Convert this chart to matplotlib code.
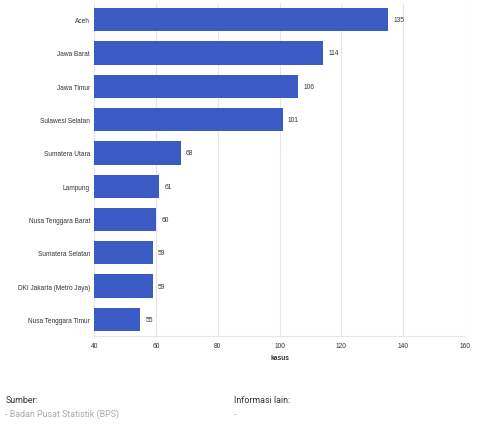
import matplotlib.pyplot as plt

plt.rcParams['font.family'] = ['Liberation Sans', 'DejaVu Sans']

provinsi = ['Aceh', 'Jawa Barat', 'Jawa Timur', 'Sulawesi Selatan', 'Sumatera Utara',
            'Lampung', 'Nusa Tenggara Barat', 'Sumatera Selatan',
            'DKI Jakarta (Metro Jaya)', 'Nusa Tenggara Timur']
kasus = [135, 114, 106, 101, 68, 61, 60, 59, 59, 55]
x_ticks = [40, 60, 80, 100, 120, 140, 160]

fig = plt.figure(figsize=(4.8, 4.35), dpi=100)
ax = fig.add_axes([0.196, 0.225, 0.773, 0.766])

y = list(range(len(provinsi)))
ax.barh(y, kasus, height=0.7, color='#3a5bc4', zorder=3)
ax.set_xlim(40, 160)
ax.set_ylim(len(provinsi) - 0.5, -0.5)
ax.set_yticks(y)
ax.set_yticklabels(provinsi, fontsize=4.7, color='#333333')
ax.set_xticks(x_ticks)
ax.set_xticklabels([str(t) for t in x_ticks], fontsize=4.8, color='#333333')
ax.tick_params(axis='y', length=0, pad=3)
ax.tick_params(axis='x', length=0, pad=4)
ax.grid(axis='x', color='#e6e6e6', linewidth=0.8, zorder=0)
for s in ['top', 'right', 'left']:
    ax.spines[s].set_visible(False)
ax.spines['bottom'].set_color('#e6e6e6')

for yi, v in zip(y, kasus):
    ax.text(v + 1.7, yi, str(v), va='center', ha='left', fontsize=4.8, color='#333333')

ax.set_xlabel('kasus', fontsize=4.8, fontweight='bold', color='#333333', labelpad=4)

foot = ['Roboto', 'DejaVu Sans']
fig.text(0.011, 0.073, 'Sumber:', fontsize=6.4, color='#333333', family=foot)
fig.text(0.011, 0.041, '- Badan Pusat Statistik (BPS)', fontsize=6.4, color='#aaaaaa', family=foot)
fig.text(0.488, 0.073, 'Informasi lain:', fontsize=6.4, color='#333333', family=foot)
fig.text(0.488, 0.041, '-', fontsize=6.4, color='#aaaaaa', family=foot)

fig.savefig('out.png', dpi=100)
